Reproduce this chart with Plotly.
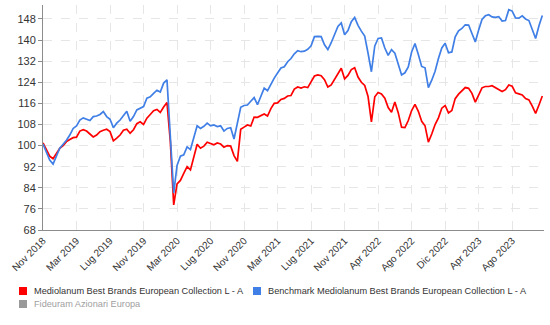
import plotly.graph_objects as go

# ---- data ----
tick_labels = ["Nov 2018", "Mar 2019", "Lug 2019", "Nov 2019", "Mar 2020", "Lug 2020",
               "Nov 2020", "Mar 2021", "Lug 2021", "Nov 2021", "Apr 2022", "Ago 2022",
               "Dic 2022", "Apr 2023", "Ago 2023"]
points_per_tick = 10

fund_name = "Mediolanum Best Brands European Collection L - A"
bench_name = "Benchmark Mediolanum Best Brands European Collection L - A"
other_name = "Fideuram Azionari Europa"

fund = [101.0, 98.5, 96.0, 95.0, 96.8, 99.0, 100.0, 101.5, 102.3, 103.0,
        103.2, 105.5, 106.0, 105.5, 104.4, 103.3, 104.0, 105.3, 105.8, 106.2,
        105.3, 101.8, 102.8, 104.0, 105.8, 106.2, 104.7, 106.0, 108.3, 109.0,
        108.0, 110.4, 111.8, 113.2, 113.7, 112.6, 114.6, 116.3, 101.5, 77.5,
        85.5, 86.8, 89.5, 92.0, 90.8, 96.2, 100.5, 99.0, 99.8, 101.3,
        100.8, 100.3, 101.0, 100.6, 99.4, 100.0, 99.8, 96.2, 94.0, 106.2,
        107.0, 107.8, 107.4, 110.8, 110.7, 111.4, 112.0, 111.2, 114.0, 116.0,
        116.2, 117.5, 117.9, 118.8, 119.0, 121.4, 122.2, 121.8, 122.3, 122.0,
        124.4, 126.4, 126.8, 126.5, 125.0, 122.2, 123.0, 125.2, 127.6, 129.3,
        125.3, 126.6, 128.8, 129.5, 126.0, 124.0, 122.8, 118.6, 109.0, 118.5,
        120.1, 119.6, 118.0, 114.4, 112.6, 116.5, 112.5, 107.0, 106.8, 109.5,
        113.3, 115.6, 113.0, 109.2, 107.5, 101.3, 104.4, 108.0, 110.5, 114.2,
        115.2, 112.4, 113.3, 117.8, 119.5, 120.8, 122.0, 121.7, 119.8, 116.5,
        119.5, 121.9, 122.4, 122.4, 122.7, 122.0, 121.4, 120.5, 121.2, 123.0,
        122.5, 120.0, 119.6, 119.2, 117.8, 117.3, 115.0, 112.2, 115.4, 118.8]

bench = [100.6, 97.5, 94.5, 93.0, 96.0, 99.0, 100.5, 102.0, 104.0, 106.5,
         107.5, 109.7, 110.5, 110.0, 109.5, 111.0, 111.2, 111.8, 112.9, 111.0,
         110.0, 106.8, 108.5, 109.7, 111.5, 113.0, 109.2, 111.0, 113.5, 114.3,
         114.8, 118.0, 118.5, 119.8, 121.0, 120.3, 123.7, 124.9, 101.0, 82.0,
         92.5, 96.0, 96.5, 99.5, 98.5, 103.0, 107.5, 106.5, 107.3, 108.5,
         107.5, 107.8, 107.2, 107.5, 105.5, 106.5, 106.8, 102.5, 108.0, 114.5,
         115.2, 115.4, 116.8, 118.2, 115.5, 119.0, 121.8, 120.8, 123.5, 125.6,
         127.5, 129.4, 129.9, 131.8, 133.0, 134.8, 136.0, 135.6, 135.8, 136.5,
         137.8, 141.3, 141.4, 141.3, 138.2, 136.4, 139.0, 142.2, 145.2, 146.5,
         142.0, 143.6, 147.0, 148.6, 145.6, 143.4, 141.5, 135.0, 128.0, 137.8,
         140.6, 140.8, 137.0, 134.2, 136.4, 135.0, 130.5, 126.8, 127.6, 129.8,
         135.5, 138.7, 134.5, 130.0, 129.5, 122.0, 124.8, 128.2, 133.0, 137.0,
         138.8, 135.2, 135.5, 141.2, 143.5, 144.4, 145.8, 145.7, 142.5, 139.3,
         143.8, 147.8, 149.2, 149.6, 148.8, 148.6, 148.9, 147.2, 147.4, 151.5,
         151.0, 148.4, 148.3, 149.2, 148.0, 147.4, 144.0, 140.6, 145.4, 149.3]

# ---- styles ----
RED = "#ff0000"
BLUE = "#3f7fe6"
FONT = "Liberation Sans"

x = list(range(len(fund)))
tickvals = [i * points_per_tick for i in range(len(tick_labels))]

fig = go.Figure()
fig.add_trace(go.Scatter(x=x, y=fund, mode="lines", name=fund_name,
                         line=dict(color=RED, width=1.7), showlegend=False))
fig.add_trace(go.Scatter(x=x, y=bench, mode="lines", name=bench_name,
                         line=dict(color=BLUE, width=1.7), showlegend=False))

W, H = 550, 325
ml, mr, mt, mb = 43, 6, 5, 95
pw, ph = W - ml - mr, H - mt - mb


def px(xp):
    return (xp - ml) / pw


def py(yp):
    return (H - mb - yp) / ph


legend_items = [
    (fund_name, RED, "#333333", 19, 291),
    (bench_name, BLUE, "#333333", 253, 291),
    (other_name, "#999999", "#a0a0a0", 19, 304),
]
shapes = []
annotations = []
for name, col, tcol, sx, sy in legend_items:
    shapes.append(dict(type="rect", xref="paper", yref="paper",
                       x0=px(sx), x1=px(sx + 8), y0=py(sy + 4), y1=py(sy - 4),
                       fillcolor=col, line=dict(width=0)))
    annotations.append(dict(text=name, xref="paper", yref="paper",
                            x=px(sx + 13), y=py(sy), xanchor="left", yanchor="middle",
                            showarrow=False, font=dict(family=FONT, size=9.2, color=tcol)))

fig.update_layout(
    width=W, height=H,
    margin=dict(l=ml, r=mr, t=mt, b=mb),
    paper_bgcolor="white", plot_bgcolor="white",
    font=dict(family=FONT, size=10, color="#333333"),
    shapes=shapes, annotations=annotations,
    showlegend=False,
)
fig.update_xaxes(range=[0, len(fund) - 0.5], tickvals=tickvals, ticktext=tick_labels,
                 tickangle=-45, showline=True, linecolor="#8c8c8c", linewidth=1,
                 showgrid=True, gridcolor="#e6e6e6", griddash="dash", zeroline=False,
                 ticks="", tickfont=dict(family=FONT, size=10, color="#333333"))
fig.update_yaxes(range=[68, 153.3], tick0=68, dtick=8, showline=True, linecolor="#8c8c8c",
                 linewidth=1, showgrid=True, gridcolor="#e6e6e6", griddash="dash",
                 zeroline=False, ticks="outside", ticklen=4, tickcolor="#8c8c8c",
                 tickfont=dict(family=FONT, size=11, color="#333333"))

fig.write_html("out.html")
